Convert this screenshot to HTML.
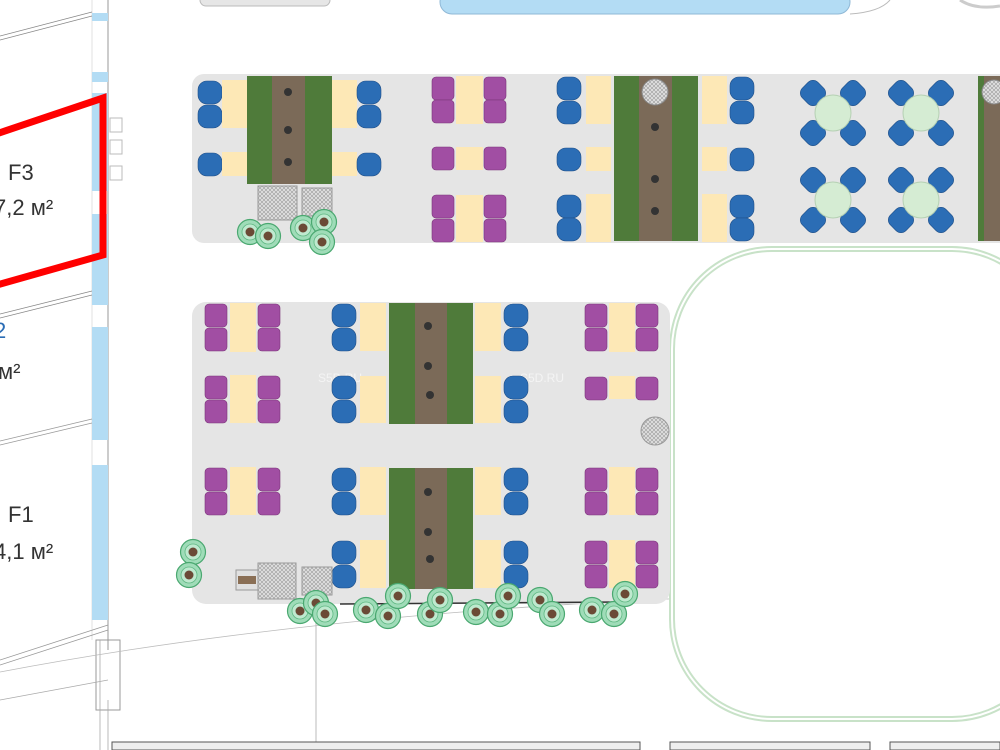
<!DOCTYPE html>
<html><head><meta charset="utf-8"><style>
html,body{margin:0;padding:0;background:#fff;}
svg{display:block;}
text{font-family:"Liberation Sans",sans-serif;}
</style></head><body>
<svg width="1000" height="750" viewBox="0 0 1000 750" xmlns="http://www.w3.org/2000/svg">
<defs>
<pattern id="hatch" width="4" height="4" patternUnits="userSpaceOnUse"><rect width="4" height="4" fill="#e0e0e0"/><path d="M0 4L4 0M0 0L4 4" stroke="#9a9a9a" stroke-width="0.6"/></pattern>
<g id="bc"><rect x="0" y="0" width="24" height="23" rx="9" fill="#2b6db5" stroke="#1f4f88" stroke-width="0.6"/></g>
<g id="pc"><rect x="0" y="0" width="22" height="23" rx="4" fill="#a14ea3" stroke="#7a3578" stroke-width="0.6"/></g>
<g id="tree"><circle r="12.5" fill="#9fdcb8" stroke="#4aa870" stroke-width="1.2"/><circle r="8" fill="#bfe9cf" stroke="#5fb883" stroke-width="0.8"/><circle r="4.5" fill="#6b4a36"/></g>
<g id="rc"><rect x="-11" y="-11" width="22" height="22" rx="7" fill="#2b6db5" stroke="#1f4f88" stroke-width="0.6" transform="rotate(45)"/></g>
<g id="cafe"><use href="#rc" x="-20" y="-20"/><use href="#rc" x="20" y="-20"/><use href="#rc" x="-20" y="20"/><use href="#rc" x="20" y="20"/><circle r="18" fill="#d5ecd3" stroke="#b5d0b3"/></g>
</defs>

<!-- top stuff -->
<rect x="200" y="-6" width="130" height="12" rx="6" fill="#e6e6e6" stroke="#bbb"/>
<rect x="440" y="-10" width="410" height="24" rx="12" fill="#b3dcf4" stroke="#8fb8d6"/>
<path d="M850 14 Q880 12 890 0" fill="none" stroke="#bbb"/>
<path d="M960 0 Q975 10 1000 6" fill="none" stroke="#ccc" stroke-width="3"/>

<!-- left building -->
<line x1="108" y1="0" x2="108" y2="650" stroke="#999" stroke-width="1"/>
<line x1="92" y1="0" x2="92" y2="640" stroke="#ccc" stroke-width="0.6"/>
<rect x="92" y="13" width="16" height="8" fill="#b3dcf4"/>
<rect x="92" y="72" width="16" height="10" fill="#b3dcf4"/>
<rect x="92" y="93" width="16" height="98" fill="#b3dcf4"/>
<rect x="92" y="214" width="16" height="91" fill="#b3dcf4"/>
<rect x="92" y="327" width="16" height="113" fill="#b3dcf4"/>
<rect x="92" y="465" width="16" height="155" fill="#b3dcf4"/>
<path d="M0 40L92 16M0 36L92 12" stroke="#888" stroke-width="0.8" fill="none"/>
<path d="M0 318L92 295M0 314L92 291" stroke="#888" stroke-width="0.8" fill="none"/>
<path d="M0 445L92 423M0 441L92 419" stroke="#999" stroke-width="0.8" fill="none"/>
<path d="M0 665L108 630M0 660L108 625" stroke="#999" stroke-width="0.8" fill="none"/>
<rect x="96" y="640" width="24" height="70" fill="none" stroke="#999"/>
<path d="M0 700L108 680M100 640L100 750M108 700L108 750" stroke="#aaa" stroke-width="0.8"/>
<rect x="110" y="118" width="12" height="14" fill="#fff" stroke="#bbb"/>
<rect x="110" y="140" width="12" height="14" fill="#fff" stroke="#bbb"/>
<rect x="110" y="166" width="12" height="14" fill="#fff" stroke="#bbb"/>
<polygon points="-10,136 103,98 103,255 -10,287" fill="none" stroke="#f00" stroke-width="7"/>
<text x="8" y="180" font-size="22" fill="#333">F3</text>
<text x="-6" y="215" font-size="22" fill="#333">7,2 м²</text>
<text x="-6" y="338" font-size="22" fill="#2b6db5">2</text>
<text x="-2" y="379" font-size="22" fill="#333">м²</text>
<text x="8" y="522" font-size="22" fill="#333">F1</text>
<text x="-6" y="559" font-size="22" fill="#333">4,1 м²</text>

<!-- bottom lines -->
<path d="M0 672 Q300 615 690 598" fill="none" stroke="#bbb" stroke-width="0.8"/>
<line x1="316" y1="620" x2="316" y2="742" stroke="#bbb"/>
<rect x="112" y="742" width="528" height="8" fill="#eee" stroke="#555"/>
<rect x="670" y="742" width="200" height="8" fill="#eee" stroke="#555"/>
<rect x="890" y="742" width="110" height="8" fill="#eee" stroke="#555"/>

<!-- stadium outline -->
<rect x="672" y="249" width="380" height="470" rx="100" fill="#fff" stroke="#c8e2c8" stroke-width="6"/>
<rect x="672" y="249" width="380" height="470" rx="100" fill="none" stroke="#fff" stroke-width="2"/>

<!-- top panel -->
<rect x="192" y="74" width="830" height="169" rx="12" fill="#e5e5e5"/>
<rect x="247" y="76" width="85" height="108" fill="#4f7b3a"/>
<rect x="272" y="76" width="33" height="108" fill="#7b6a58"/>
<circle cx="288" cy="92" r="4" fill="#333"/><circle cx="288" cy="130" r="4" fill="#333"/><circle cx="288" cy="162" r="4" fill="#333"/>
<use href="#bc" x="198" y="81"/><use href="#bc" x="198" y="105"/><use href="#bc" x="198" y="153"/>
<rect x="222" y="80" width="25" height="48" fill="#fde8b6"/><rect x="222" y="152" width="25" height="24" fill="#fde8b6"/>
<rect x="332" y="80" width="25" height="48" fill="#fde8b6"/><rect x="332" y="152" width="25" height="24" fill="#fde8b6"/>
<use href="#bc" x="357" y="81"/><use href="#bc" x="357" y="105"/><use href="#bc" x="357" y="153"/>
<rect x="258" y="186" width="39" height="34" fill="url(#hatch)" stroke="#999"/>
<rect x="302" y="188" width="30" height="28" fill="url(#hatch)" stroke="#999"/>
<use href="#tree" x="250" y="232"/><use href="#tree" x="268" y="236"/><use href="#tree" x="303" y="228"/><use href="#tree" x="324" y="222"/><use href="#tree" x="322" y="242"/>
<use href="#pc" x="432" y="77"/><use href="#pc" x="432" y="100"/><use href="#pc" x="432" y="147"/><use href="#pc" x="432" y="195"/><use href="#pc" x="432" y="219"/>
<rect x="456" y="76" width="27" height="48" fill="#fde8b6"/><rect x="456" y="147" width="27" height="23" fill="#fde8b6"/><rect x="456" y="195" width="27" height="47" fill="#fde8b6"/>
<use href="#pc" x="484" y="77"/><use href="#pc" x="484" y="100"/><use href="#pc" x="484" y="147"/><use href="#pc" x="484" y="195"/><use href="#pc" x="484" y="219"/>
<use href="#bc" x="557" y="77"/><use href="#bc" x="557" y="101"/><use href="#bc" x="557" y="148"/><use href="#bc" x="557" y="195"/><use href="#bc" x="557" y="218"/>
<rect x="586" y="76" width="25" height="48" fill="#fde8b6"/><rect x="586" y="147" width="25" height="24" fill="#fde8b6"/><rect x="586" y="194" width="25" height="48" fill="#fde8b6"/>
<rect x="614" y="76" width="84" height="165" fill="#4f7b3a"/>
<rect x="639" y="76" width="33" height="165" fill="#7b6a58"/>
<circle cx="655" cy="92" r="13" fill="url(#hatch)" stroke="#888"/>
<circle cx="655" cy="127" r="4" fill="#333"/><circle cx="655" cy="179" r="4" fill="#333"/><circle cx="655" cy="211" r="4" fill="#333"/>
<rect x="702" y="76" width="25" height="48" fill="#fde8b6"/><rect x="702" y="147" width="25" height="24" fill="#fde8b6"/><rect x="702" y="194" width="25" height="48" fill="#fde8b6"/>
<use href="#bc" x="730" y="77"/><use href="#bc" x="730" y="101"/><use href="#bc" x="730" y="148"/><use href="#bc" x="730" y="195"/><use href="#bc" x="730" y="218"/>
<use href="#cafe" x="833" y="113"/><use href="#cafe" x="921" y="113"/><use href="#cafe" x="833" y="200"/><use href="#cafe" x="921" y="200"/>
<rect x="978" y="76" width="30" height="165" fill="#4f7b3a"/>
<rect x="984" y="76" width="20" height="165" fill="#7b6a58"/>
<circle cx="994" cy="92" r="12" fill="url(#hatch)" stroke="#888"/>

<!-- bottom panel -->
<rect x="192" y="302" width="478" height="302" rx="14" fill="#e5e5e5"/>
<text x="318" y="382" font-size="12" fill="#f4f4f4">S5D.RU</text>
<text x="520" y="382" font-size="12" fill="#f4f4f4">S5D.RU</text>
<use href="#pc" x="205" y="304"/><use href="#pc" x="205" y="328"/><use href="#pc" x="205" y="376"/><use href="#pc" x="205" y="400"/><use href="#pc" x="205" y="468"/><use href="#pc" x="205" y="492"/>
<rect x="230" y="303" width="26" height="49" fill="#fde8b6"/><rect x="230" y="375" width="26" height="48" fill="#fde8b6"/><rect x="230" y="467" width="26" height="48" fill="#fde8b6"/>
<use href="#pc" x="258" y="304"/><use href="#pc" x="258" y="328"/><use href="#pc" x="258" y="376"/><use href="#pc" x="258" y="400"/><use href="#pc" x="258" y="468"/><use href="#pc" x="258" y="492"/>
<use href="#bc" x="332" y="304"/><use href="#bc" x="332" y="328"/><use href="#bc" x="332" y="376"/><use href="#bc" x="332" y="400"/><use href="#bc" x="332" y="468"/><use href="#bc" x="332" y="492"/><use href="#bc" x="332" y="541"/><use href="#bc" x="332" y="565"/>
<rect x="360" y="303" width="26" height="48" fill="#fde8b6"/><rect x="360" y="376" width="26" height="47" fill="#fde8b6"/><rect x="360" y="467" width="26" height="48" fill="#fde8b6"/><rect x="360" y="540" width="26" height="48" fill="#fde8b6"/>
<rect x="389" y="303" width="84" height="121" fill="#4f7b3a"/><rect x="415" y="303" width="32" height="121" fill="#7b6a58"/>
<rect x="389" y="468" width="84" height="121" fill="#4f7b3a"/><rect x="415" y="468" width="32" height="121" fill="#7b6a58"/>
<circle cx="428" cy="326" r="4" fill="#333"/><circle cx="428" cy="366" r="4" fill="#333"/><circle cx="430" cy="395" r="4" fill="#333"/>
<circle cx="428" cy="492" r="4" fill="#333"/><circle cx="428" cy="532" r="4" fill="#333"/><circle cx="430" cy="559" r="4" fill="#333"/>
<rect x="475" y="303" width="26" height="48" fill="#fde8b6"/><rect x="475" y="376" width="26" height="47" fill="#fde8b6"/><rect x="475" y="467" width="26" height="48" fill="#fde8b6"/><rect x="475" y="540" width="26" height="48" fill="#fde8b6"/>
<use href="#bc" x="504" y="304"/><use href="#bc" x="504" y="328"/><use href="#bc" x="504" y="376"/><use href="#bc" x="504" y="400"/><use href="#bc" x="504" y="468"/><use href="#bc" x="504" y="492"/><use href="#bc" x="504" y="541"/><use href="#bc" x="504" y="565"/>
<use href="#pc" x="585" y="304"/><use href="#pc" x="585" y="328"/><use href="#pc" x="585" y="377"/><use href="#pc" x="585" y="468"/><use href="#pc" x="585" y="492"/><use href="#pc" x="585" y="541"/><use href="#pc" x="585" y="565"/>
<rect x="609" y="303" width="26" height="49" fill="#fde8b6"/><rect x="609" y="376" width="26" height="23" fill="#fde8b6"/><rect x="609" y="467" width="26" height="48" fill="#fde8b6"/><rect x="609" y="540" width="26" height="48" fill="#fde8b6"/>
<use href="#pc" x="636" y="304"/><use href="#pc" x="636" y="328"/><use href="#pc" x="636" y="377"/><use href="#pc" x="636" y="468"/><use href="#pc" x="636" y="492"/><use href="#pc" x="636" y="541"/><use href="#pc" x="636" y="565"/>
<circle cx="655" cy="431" r="14" fill="url(#hatch)" stroke="#999"/>
<rect x="236" y="570" width="22" height="20" fill="#e0e0e0" stroke="#999"/><rect x="238" y="576" width="18" height="8" fill="#8a6f55"/>
<rect x="258" y="563" width="38" height="36" fill="url(#hatch)" stroke="#999"/>
<rect x="302" y="567" width="30" height="28" fill="url(#hatch)" stroke="#999"/>
<use href="#tree" x="193" y="552"/><use href="#tree" x="189" y="575"/>
<line x1="340" y1="604" x2="620" y2="602" stroke="#333" stroke-width="1.5"/>
<use href="#tree" x="300" y="611"/><use href="#tree" x="316" y="603"/><use href="#tree" x="325" y="614"/><use href="#tree" x="366" y="610"/><use href="#tree" x="388" y="616"/><use href="#tree" x="398" y="596"/>
<use href="#tree" x="430" y="614"/><use href="#tree" x="440" y="600"/><use href="#tree" x="476" y="612"/><use href="#tree" x="500" y="614"/><use href="#tree" x="508" y="596"/>
<use href="#tree" x="540" y="600"/><use href="#tree" x="552" y="614"/><use href="#tree" x="592" y="610"/><use href="#tree" x="614" y="614"/><use href="#tree" x="625" y="594"/>
</svg>
</body></html>
